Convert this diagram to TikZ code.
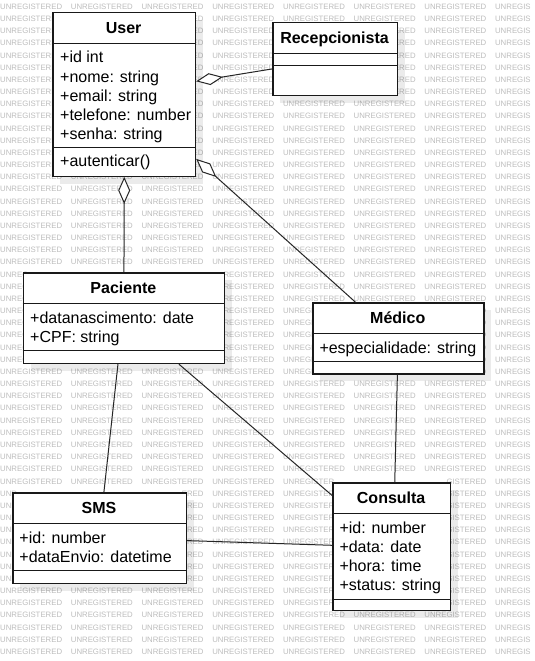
\documentclass[tikz,border=0pt]{standalone}
\usepackage{fontspec}
\usepackage{xstring}
\setmainfont{Liberation Sans}
\usetikzlibrary{arrows.meta,calc}
\tikzset{
  classbox/.style={draw=black!90, line width=1.2pt, fill=white, inner sep=0pt, anchor=north west},
  shadowbox/.style={fill=black, fill opacity=0.08},
  ctitle/.style={font=\fontsize{16}{19}\selectfont\bfseries, inner sep=0pt, anchor=base},
  cattr/.style={font=\fontsize{16}{19}\selectfont, inner sep=0pt, anchor=base west},
  sepline/.style={draw=black!90, line width=1.2pt},
  assoc/.style={draw=black!85, line width=1pt},
  aggr/.style={assoc, {Diamond[length=27pt, width=12pt, fill=white]}-},
  wmark/.style={font=\fontsize{7.8}{8}\selectfont, text=black!26, inner sep=0pt, anchor=west},
}
% name, L, T, R, B, S1, S2, title
\newcommand{\umlbox}[8]{%
  \fill[shadowbox] ({#2+8},{#3+8}) rectangle ({#4+8},{#5+8});
  \node[classbox, minimum width={(#4)-(#2)}, minimum height={(#5)-(#3)}] (#1) at (#2,#3) {};
  \draw[sepline] (#2,#6) -- (#4,#6);
  \draw[sepline] (#2,#7) -- (#4,#7);
  \node[ctitle] (#1-title) at ({(#2+#4)/2},{(#3+#6)/2+5.8}) {#8};
}
\def\wmcum{{0,5.632,11.264,16.896,22.099,28.167,30.335,35.538,40.304,45.507,51.139,56.342,61.974}}
\def\wmboxes{52.3/12.3/195/175.7, 272.3/22.3/396.7/95, 22.7/272.3/224/363, 312.3/302.3/483.3/373.3, 12.3/492.3/185.7/582.7, 332.3/482.3/450/610}
\newcount\wma
\newcount\wmb
\begin{document}
\begin{tikzpicture}[x=1pt,y=-1pt]
\useasboundingbox (0,0) rectangle (535,661);
\fill[white] (0,0) rectangle (535,661);
% watermark (only the parts not hidden by the class boxes)
\foreach \r in {0,...,53} {
  \foreach \c in {0,...,7} {
    \pgfmathsetmacro\xo{\c*70.7}
    \pgfmathsetmacro\yc{6.7+\r*12.17}
    \xdef\wmP{534}\xdef\wmS{-1000}
    \foreach \bxl/\bxt/\bxr/\bxb in \wmboxes {
      \pgfmathtruncatemacro\wmcase{and(and(\yc+4>\bxt+3, \yc-4<\bxb-3), and(\xo+62>\bxl+6, \xo<\bxr-4)) ? ((\xo<\bxl+6) ? 1 : 2) : 0}
      \ifnum\wmcase=1 \pgfmathsetmacro\wmtmp{min(\wmP,\bxl+6)}\xdef\wmP{\wmtmp}\fi
      \ifnum\wmcase=2 \pgfmathsetmacro\wmtmp{max(\wmS,\bxr-4)}\xdef\wmS{\wmtmp}\fi
    }
    \global\wma=0 \global\wmb=0
    \foreach \k in {1,...,12} {
      \pgfmathtruncatemacro\km{\k-1}
      \pgfmathtruncatemacro\wmt{(\xo+\wmcum[\k]<=\wmP) ? 1 : 0}
      \ifnum\wmt=1 \global\advance\wmb by 1 \fi
      \pgfmathtruncatemacro\wmu{(\xo+\wmcum[\km]<\wmS) ? 1 : 0}
      \ifnum\wmu=1 \global\advance\wma by 1 \fi
    }
    \ifnum\wma<\wmb
      \pgfmathsetmacro\wmx{\xo+\wmcum[\the\wma]}
      \pgfmathtruncatemacro\wmaa{\the\wma+1}
      \StrMid{UNREGISTERED}{\wmaa}{\the\wmb}[\wmtxt]
      \node[wmark] (wm-\r-\c) at (\wmx,\yc) {\wmtxt};
    \fi
  }
}

% User
\umlbox{user}{52.3}{12.3}{195}{175.7}{43.3}{147.3}{User}
\node[cattr] (user-a1) at (60,63) {+id int};
\node[cattr] (user-a2) at (60,82) {+nome: string};
\node[cattr] (user-a3) at (60,101) {+email: string};
\node[cattr] (user-a4) at (60,120) {+telefone: number};
\node[cattr] (user-a5) at (60,139) {+senha: string};
\node[cattr] (user-o1) at (60,166.5) {+autenticar()};

% Recepcionista
\umlbox{recep}{272.3}{22.3}{396.7}{95}{53.3}{65.7}{Recepcionista}

% Paciente
\umlbox{pac}{22.7}{272.3}{224}{363}{303.3}{350.7}{Paciente}
\node[cattr] (pac-a1) at (30,323) {+datanascimento: date};
\node[cattr] (pac-a2) at (30,342) {+CPF: string};

% Medico
\umlbox{med}{312.3}{302.3}{483.3}{373.3}{333.3}{361.7}{Médico}
\node[cattr] (med-a1) at (319.3,353) {+especialidade: string};

% SMS
\umlbox{sms}{12.3}{492.3}{185.7}{582.7}{523.3}{570.7}{SMS}
\node[cattr] (sms-a1) at (19.3,543) {+id: number};
\node[cattr] (sms-a2) at (19.3,562) {+dataEnvio: datetime};

% Consulta
\umlbox{cons}{332.3}{482.3}{450}{610}{513.3}{599.3}{Consulta}
\node[cattr] (cons-a1) at (339.3,533) {+id: number};
\node[cattr] (cons-a2) at (339.3,552) {+data: date};
\node[cattr] (cons-a3) at (339.3,571) {+hora: time};
\node[cattr] (cons-a4) at (339.3,590) {+status: string};

% connectors
\draw[aggr] ([yshift=13.3pt]user.east) -- ([yshift=-9.65pt]recep.west);
\draw[aggr] (user.south) -- (pac.north);
\draw[aggr] ([yshift=-64.3pt]user.east) -- ([xshift=-42.8pt]med.north);
\draw[assoc] ([xshift=-1pt]med.south) -- ([xshift=3pt]cons.north);
\draw[assoc] ([xshift=-6pt]pac.south) -- ([xshift=4.3pt]sms.north);
\draw[assoc] ([xshift=55pt]pac.south) -- ([yshift=51.15pt]cons.west);
\draw[assoc] ([yshift=-2.5pt]sms.east) -- ([yshift=1.45pt]cons.west);
\end{tikzpicture}
\end{document}
